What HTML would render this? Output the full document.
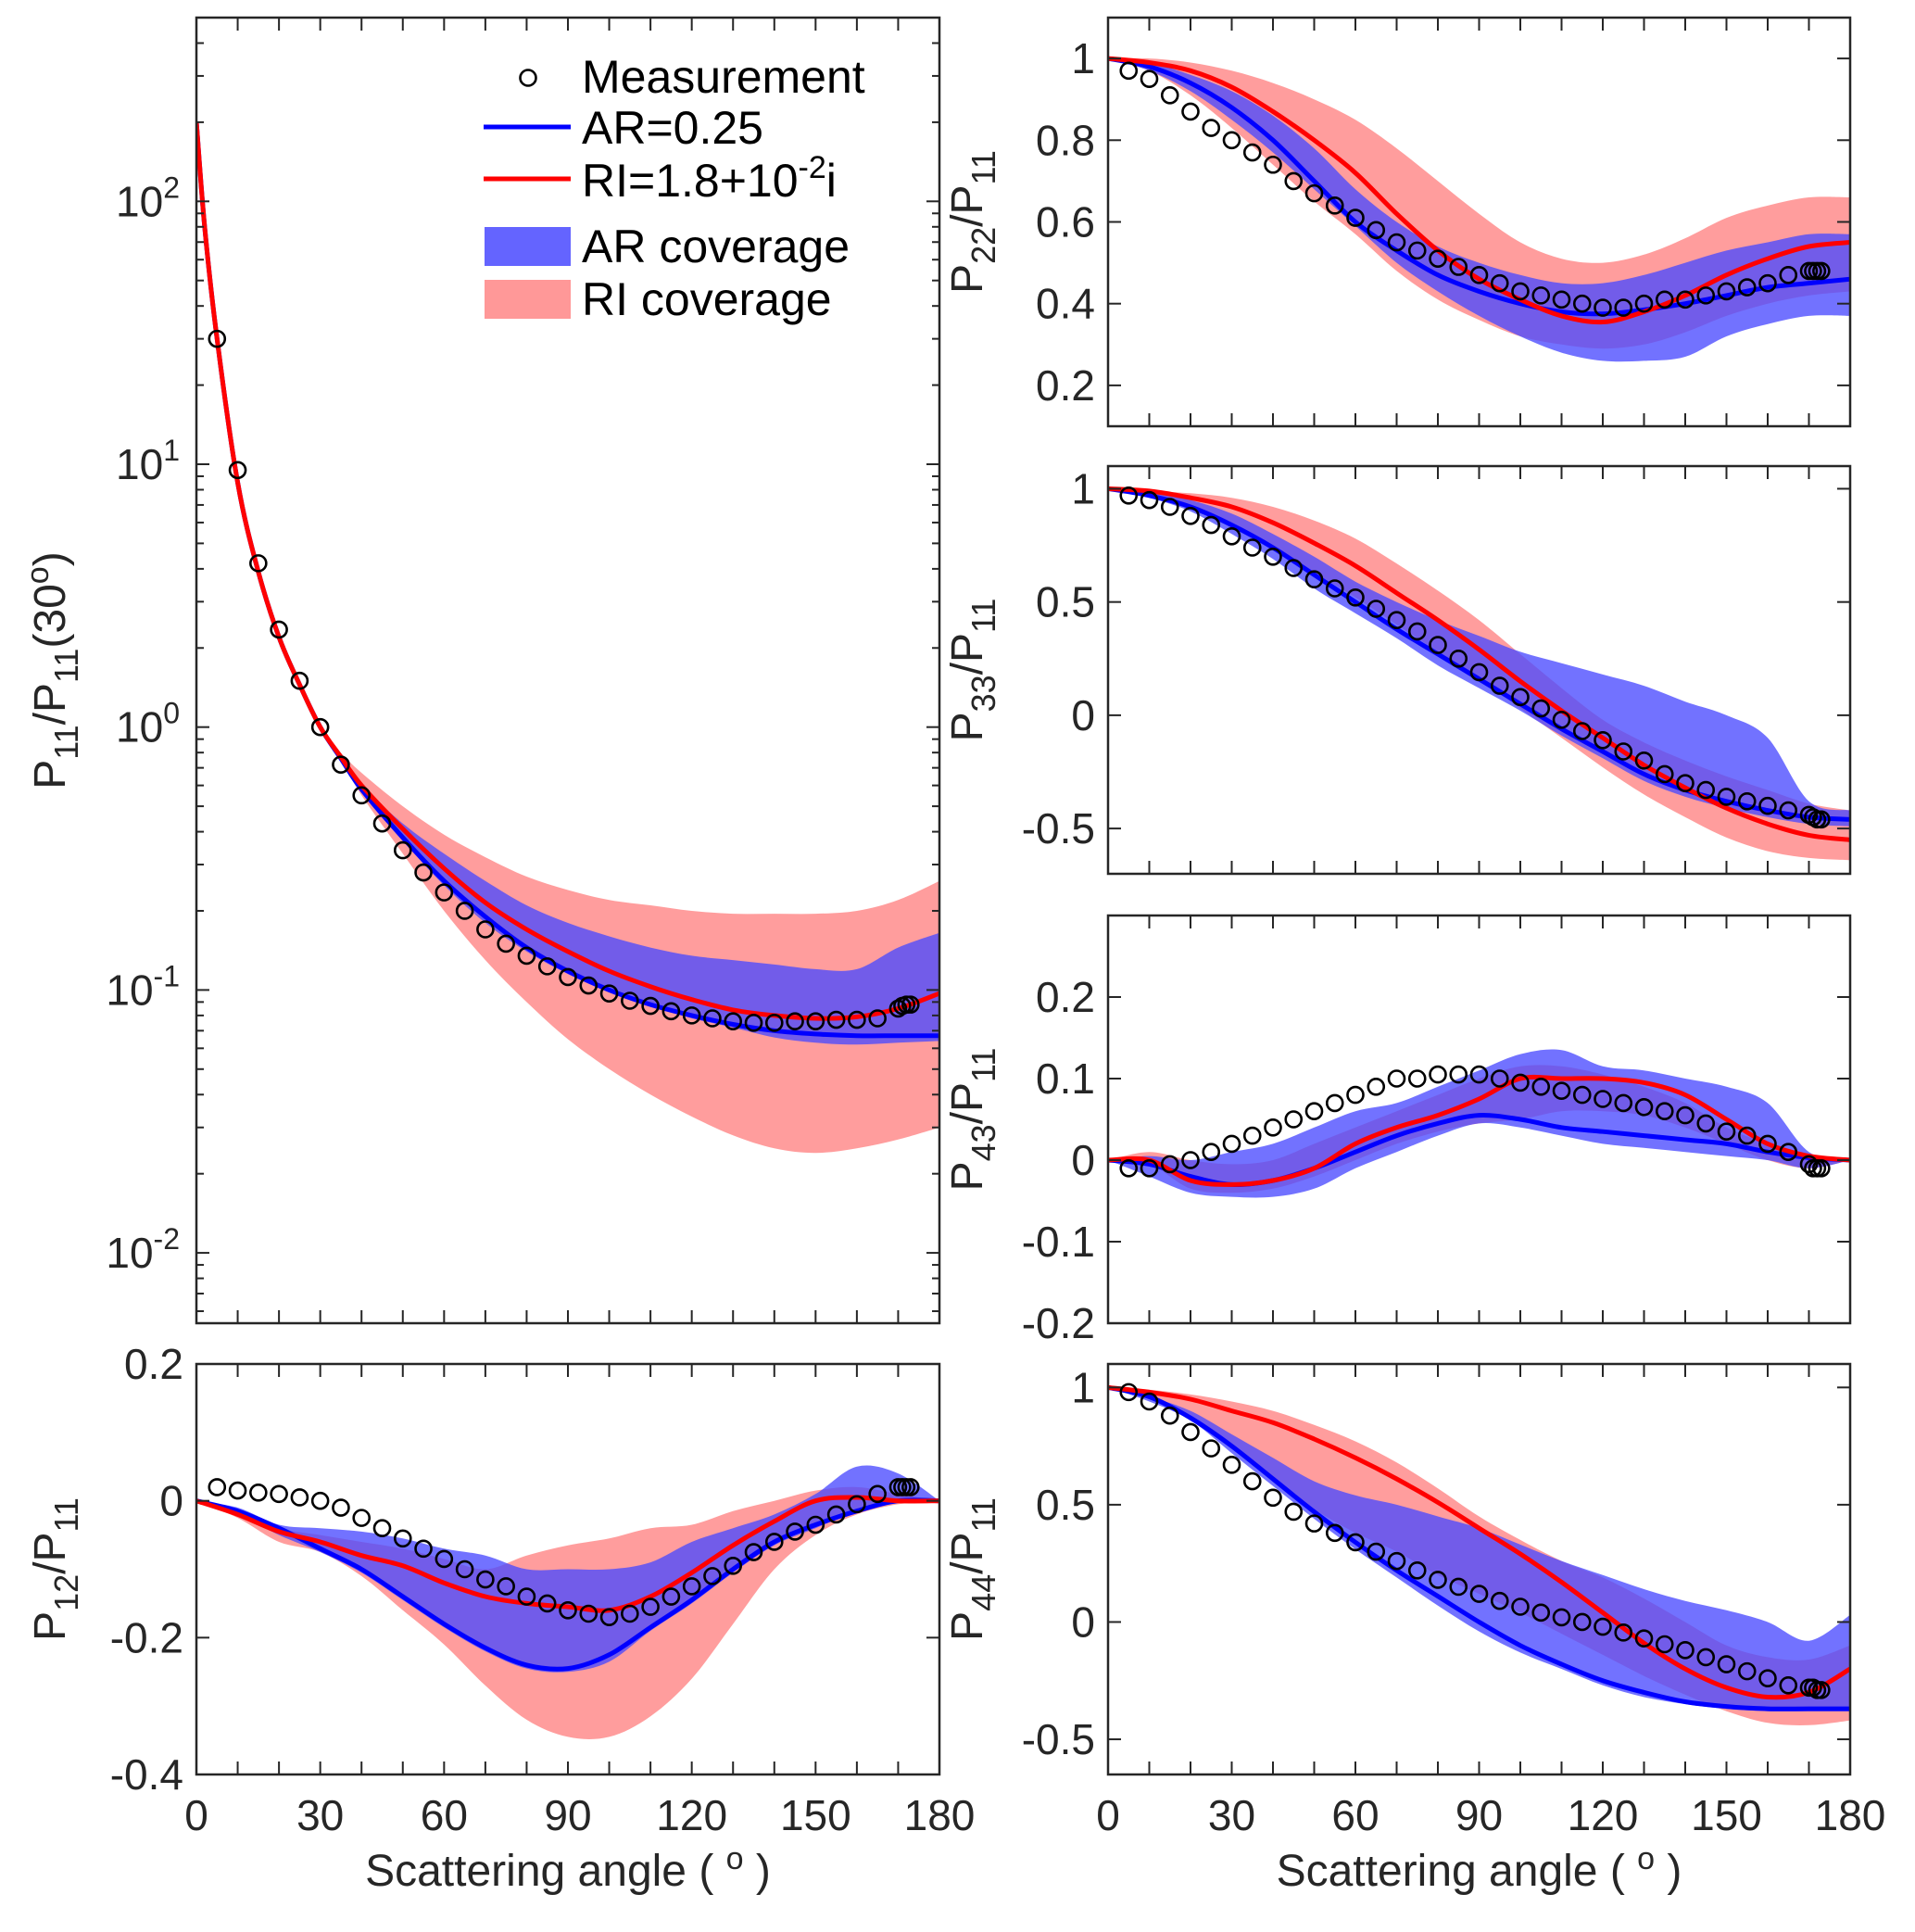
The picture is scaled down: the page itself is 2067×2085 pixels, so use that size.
<!DOCTYPE html>
<html><head><meta charset="utf-8"><style>
html,body{margin:0;padding:0;background:#fff;}
svg{display:block;font-family:"Liberation Sans",Arial,sans-serif;}
</style></head>
<body>
<svg id="fig" width="2067" height="2085" viewBox="0 0 2067 2085" xmlns="http://www.w3.org/2000/svg"></svg>
<script>
// ---------- DATA ----------
const measAngles = [5,10,15,20,25,30,35,40,45,50,55,60,65,70,75,80,85,90,95,100,105,110,115,120,125,130,135,140,145,150,155,160,165,170,171,172,173];
// P11
const p11Meas = [30,9.5,4.2,2.35,1.5,1.0,0.72,0.55,0.43,0.34,0.28,0.235,0.2,0.17,0.15,0.135,0.123,0.112,0.104,0.097,0.091,0.087,0.083,0.08,0.078,0.076,0.075,0.075,0.076,0.076,0.077,0.077,0.078,0.085,0.087,0.088,0.088];
const p11Angles = [0,2,5,10,15,20,25,30,35,40,50,60,70,80,90,100,110,120,130,140,150,160,170,180];
const p11AR = [200,80,30,8.5,3.9,2.2,1.45,1.0,0.76,0.58,0.38,0.26,0.19,0.145,0.118,0.1,0.088,0.08,0.074,0.07,0.068,0.067,0.067,0.067];
const p11RI = [200,80,30,8.5,3.9,2.2,1.45,1.0,0.77,0.6,0.41,0.29,0.215,0.17,0.14,0.118,0.103,0.092,0.084,0.08,0.078,0.079,0.085,0.097];
const p11ARup = [200,80,30,8.5,3.9,2.2,1.45,1.0,0.77,0.6,0.43,0.33,0.26,0.21,0.18,0.16,0.145,0.135,0.13,0.125,0.12,0.12,0.145,0.165];
const p11ARlo = [200,80,30,8.5,3.9,2.2,1.45,1.0,0.75,0.57,0.37,0.25,0.18,0.14,0.115,0.098,0.087,0.078,0.072,0.066,0.063,0.062,0.063,0.064];
const p11RIup = [200,80,30,8.5,3.9,2.2,1.45,1.0,0.8,0.67,0.5,0.39,0.32,0.27,0.24,0.22,0.21,0.2,0.195,0.195,0.195,0.2,0.22,0.26];
const p11RIlo = [200,80,30,8.5,3.9,2.2,1.45,1.0,0.75,0.55,0.33,0.2,0.13,0.09,0.065,0.05,0.04,0.033,0.028,0.025,0.024,0.025,0.027,0.03];
// P22
const p22Meas = [0.97,0.95,0.91,0.87,0.83,0.8,0.77,0.74,0.7,0.67,0.64,0.61,0.58,0.55,0.53,0.51,0.49,0.47,0.45,0.43,0.42,0.41,0.4,0.39,0.39,0.4,0.41,0.41,0.42,0.43,0.44,0.45,0.47,0.48,0.48,0.48,0.48];
const stdAngles = [0,10,20,30,40,50,60,70,80,90,100,110,120,130,140,150,160,170,180];
const p22AR = [1,0.98,0.94,0.88,0.8,0.7,0.6,0.53,0.47,0.43,0.4,0.38,0.375,0.385,0.4,0.42,0.44,0.45,0.46];
const p22RI = [1,0.99,0.97,0.93,0.87,0.8,0.72,0.62,0.53,0.46,0.41,0.37,0.355,0.38,0.42,0.47,0.51,0.54,0.55];
const p22ARup = [1,0.99,0.96,0.92,0.86,0.78,0.68,0.6,0.54,0.5,0.47,0.45,0.45,0.47,0.5,0.53,0.55,0.57,0.57];
const p22ARlo = [1,0.97,0.92,0.85,0.77,0.68,0.59,0.5,0.43,0.37,0.32,0.28,0.26,0.26,0.27,0.32,0.35,0.37,0.37];
const p22RIup = [1,1,0.99,0.97,0.94,0.9,0.85,0.78,0.7,0.62,0.55,0.51,0.5,0.52,0.56,0.61,0.64,0.66,0.66];
const p22RIlo = [1,0.97,0.91,0.83,0.74,0.65,0.57,0.48,0.41,0.36,0.32,0.3,0.29,0.3,0.33,0.37,0.4,0.42,0.43];
// P33
const p33Meas = [0.97,0.95,0.92,0.88,0.84,0.79,0.74,0.7,0.65,0.6,0.56,0.52,0.47,0.42,0.37,0.31,0.25,0.19,0.13,0.08,0.03,-0.02,-0.07,-0.11,-0.16,-0.2,-0.26,-0.3,-0.33,-0.36,-0.38,-0.4,-0.42,-0.44,-0.45,-0.46,-0.46];
const p33AR = [1,0.97,0.92,0.84,0.74,0.62,0.5,0.38,0.27,0.16,0.05,-0.06,-0.16,-0.26,-0.33,-0.38,-0.42,-0.45,-0.46];
const p33RI = [1,0.99,0.96,0.92,0.85,0.76,0.66,0.54,0.42,0.29,0.15,0.02,-0.1,-0.22,-0.32,-0.41,-0.48,-0.53,-0.55];
const p33ARup = [1,0.98,0.95,0.89,0.8,0.7,0.59,0.5,0.42,0.35,0.28,0.23,0.18,0.13,0.06,0.0,-0.1,-0.38,-0.42];
const p33ARlo = [1,0.96,0.9,0.8,0.69,0.56,0.45,0.34,0.22,0.12,0.02,-0.09,-0.19,-0.29,-0.36,-0.41,-0.45,-0.48,-0.49];
const p33RIup = [1,0.99,0.98,0.96,0.92,0.86,0.78,0.67,0.55,0.42,0.27,0.12,-0.02,-0.12,-0.2,-0.27,-0.33,-0.39,-0.42];
const p33RIlo = [1,0.96,0.92,0.84,0.74,0.63,0.52,0.4,0.28,0.16,0.03,-0.1,-0.23,-0.35,-0.45,-0.54,-0.6,-0.63,-0.64];
// P43
const p43Meas = [-0.01,-0.01,-0.005,0,0.01,0.02,0.03,0.04,0.05,0.06,0.07,0.08,0.09,0.1,0.1,0.105,0.105,0.105,0.1,0.095,0.09,0.085,0.08,0.075,0.07,0.065,0.06,0.055,0.045,0.035,0.03,0.02,0.01,-0.005,-0.01,-0.01,-0.01];
const p43AR = [0,-0.005,-0.02,-0.03,-0.025,-0.01,0.01,0.03,0.045,0.055,0.05,0.04,0.035,0.03,0.025,0.02,0.01,0.003,0];
const p43RI = [0,0.0,-0.025,-0.03,-0.025,-0.01,0.02,0.04,0.055,0.075,0.1,0.1,0.1,0.095,0.08,0.05,0.02,0.005,0];
const p43ARup = [0,0.005,0.0,0.01,0.02,0.04,0.06,0.07,0.09,0.11,0.13,0.135,0.115,0.11,0.1,0.09,0.07,0.01,0];
const p43ARlo = [0,-0.02,-0.04,-0.045,-0.045,-0.035,-0.01,0.01,0.03,0.045,0.04,0.03,0.02,0.015,0.01,0.005,0.0,-0.01,0];
const p43RIup = [0,0.01,0.0,-0.005,0.0,0.02,0.04,0.06,0.08,0.1,0.115,0.115,0.105,0.09,0.07,0.04,0.02,0.005,0];
const p43RIlo = [0,-0.005,-0.035,-0.04,-0.035,-0.02,0.0,0.02,0.035,0.045,0.05,0.06,0.06,0.055,0.04,0.02,0.0,-0.01,0];
// P12
const p12Meas = [0.02,0.015,0.012,0.01,0.005,0,-0.01,-0.025,-0.04,-0.055,-0.07,-0.085,-0.1,-0.115,-0.125,-0.14,-0.15,-0.16,-0.165,-0.17,-0.165,-0.155,-0.14,-0.125,-0.11,-0.095,-0.075,-0.06,-0.045,-0.035,-0.02,-0.005,0.01,0.02,0.02,0.02,0.02];
const p12AR = [0,-0.015,-0.04,-0.07,-0.1,-0.14,-0.18,-0.215,-0.24,-0.245,-0.225,-0.185,-0.145,-0.1,-0.06,-0.035,-0.015,0.0,0];
const p12RI = [0,-0.02,-0.045,-0.06,-0.08,-0.095,-0.12,-0.14,-0.15,-0.155,-0.16,-0.14,-0.105,-0.065,-0.03,0.0,0.005,0.0,0];
const p12ARup = [0,-0.01,-0.035,-0.04,-0.045,-0.055,-0.07,-0.08,-0.1,-0.1,-0.1,-0.09,-0.06,-0.04,-0.02,0.01,0.05,0.04,0];
const p12ARlo = [0,-0.02,-0.05,-0.075,-0.105,-0.145,-0.185,-0.22,-0.245,-0.25,-0.235,-0.19,-0.15,-0.105,-0.065,-0.04,-0.015,0,0];
const p12RIup = [0,-0.015,-0.04,-0.05,-0.06,-0.07,-0.085,-0.1,-0.08,-0.065,-0.055,-0.04,-0.035,-0.015,0.0,0.015,0.02,0.01,0];
const p12RIlo = [0,-0.025,-0.06,-0.075,-0.11,-0.16,-0.21,-0.27,-0.32,-0.345,-0.345,-0.315,-0.26,-0.18,-0.1,-0.05,-0.02,-0.005,0];
// P44
const p44Meas = [0.98,0.94,0.88,0.81,0.74,0.67,0.6,0.53,0.47,0.42,0.38,0.34,0.3,0.26,0.22,0.18,0.15,0.12,0.09,0.065,0.04,0.02,0.0,-0.02,-0.045,-0.07,-0.095,-0.12,-0.15,-0.18,-0.21,-0.24,-0.27,-0.28,-0.28,-0.29,-0.29];
const p44AR = [1,0.96,0.87,0.75,0.61,0.47,0.34,0.22,0.11,0.0,-0.1,-0.18,-0.25,-0.3,-0.34,-0.36,-0.37,-0.37,-0.37];
const p44RI = [1,0.98,0.95,0.9,0.85,0.78,0.7,0.61,0.51,0.4,0.29,0.17,0.04,-0.09,-0.2,-0.28,-0.32,-0.3,-0.2];
const p44ARup = [1,0.96,0.9,0.8,0.7,0.6,0.54,0.5,0.45,0.4,0.33,0.26,0.2,0.14,0.09,0.05,0.0,-0.08,0.03];
const p44ARlo = [1,0.94,0.86,0.72,0.58,0.44,0.31,0.19,0.07,-0.04,-0.13,-0.2,-0.27,-0.32,-0.35,-0.37,-0.38,-0.38,-0.38];
const p44RIup = [1,0.99,0.97,0.94,0.9,0.84,0.77,0.68,0.57,0.45,0.35,0.26,0.19,0.1,0.0,-0.1,-0.15,-0.16,-0.1];
const p44RIlo = [1,0.95,0.88,0.74,0.6,0.48,0.38,0.3,0.2,0.12,0.04,-0.05,-0.14,-0.23,-0.31,-0.38,-0.43,-0.44,-0.42];
const xTicks = [0,30,60,90,120,150,180];

// ---------- DRAWING ----------
const NS = 'http://www.w3.org/2000/svg';
const svg = document.getElementById('fig');
function mk(tag, attrs, parent){const e=document.createElementNS(NS,tag);for(const k in attrs)e.setAttribute(k,attrs[k]);(parent||svg).appendChild(e);return e;}
// Catmull-Rom smooth path through points (start with M or continue with L)
function smooth(pts, cont){
  let d = (cont?'L':'M')+pts[0][0].toFixed(1)+','+pts[0][1].toFixed(1);
  for(let i=0;i<pts.length-1;i++){
    const p0=pts[Math.max(0,i-1)], p1=pts[i], p2=pts[i+1], p3=pts[Math.min(pts.length-1,i+2)];
    const c1x=p1[0]+(p2[0]-p0[0])/6, c1y=p1[1]+(p2[1]-p0[1])/6;
    const c2x=p2[0]-(p3[0]-p1[0])/6, c2y=p2[1]-(p3[1]-p1[1])/6;
    d+='C'+c1x.toFixed(1)+','+c1y.toFixed(1)+' '+c2x.toFixed(1)+','+c2y.toFixed(1)+' '+p2[0].toFixed(1)+','+p2[1].toFixed(1);
  }
  return d;
}

function panel(cfg){
  const g = mk('g',{});
  
  
  const {x0,x1,y0,y1} = cfg;
  const sx = a => x0 + (a/180)*(x1-x0);
  const tr = cfg.log ? (v=>Math.log10(v)) : (v=>v);
  const lo = tr(cfg.ymin), hi = tr(cfg.ymax);
  const sy = v => y1 - (tr(v)-lo)/(hi-lo)*(y1-y0);
  const clip = 'clip-'+cfg.name;
  const cp = mk('clipPath',{id:clip},g); mk('rect',{x:x0,y:y0,width:x1-x0,height:y1-y0},cp);
  const inner = mk('g',{'clip-path':'url(#'+clip+')'},g);
  function band(ang, up, lo2, color, op, nm){
    const top = ang.map((a,i)=>[sx(a),sy(up[i])]);
    const bot = ang.map((a,i)=>[sx(a),sy(lo2[i])]).reverse();
    const p = mk('path',{d:smooth(top,false)+smooth(bot,true)+'Z',fill:color,'fill-opacity':op,stroke:'none'},inner);
    
    
  }
  function line(ang, vals, color, nm){
    const pts = ang.map((a,i)=>[sx(a),sy(vals[i])]);
    const p = mk('path',{d:smooth(pts,false),fill:'none',stroke:color,'stroke-width':5,'stroke-linejoin':'round'},inner);
    
    
  }
  band(cfg.ang, cfg.riUp, cfg.riLo, '#ff8c8c', 0.85, 'ri-coverage-band');
  band(cfg.ang, cfg.arUp, cfg.arLo, '#4a4aff', 0.78, 'ar-coverage-band');
  line(cfg.ang, cfg.ar, '#0000ff', 'ar-line');
  line(cfg.ang, cfg.ri, '#ff0000', 'ri-line');
  measAngles.forEach((a,i)=>{
    const c = mk('circle',{cx:sx(a),cy:sy(cfg.meas[i]),r:8.5,fill:'none',stroke:'#000','stroke-width':2.6},inner);
    
    
  });
  mk('rect',{x:x0,y:y0,width:x1-x0,height:y1-y0,fill:'none',stroke:'#262626','stroke-width':2.5},g);
  for(let a=0;a<=180;a+=10){
    const X=sx(a);
    mk('line',{x1:X,y1:y1,x2:X,y2:y1-14,stroke:'#262626','stroke-width':2},g);
    mk('line',{x1:X,y1:y0,x2:X,y2:y0+14,stroke:'#262626','stroke-width':2},g);
  }
  if(cfg.xlabels){
    xTicks.forEach(a=>{
      const t = mk('text',{x:sx(a),y:y1+60,'font-size':46,'text-anchor':'middle',fill:'#262626'},g);
      t.textContent = a;
      
      
    });
    const t = mk('text',{x:(x0+x1)/2,y:y1+120,'font-size':48,'text-anchor':'middle',fill:'#262626'},g);
    t.innerHTML = 'Scattering angle ( <tspan dy="-18" font-size="34">o</tspan><tspan dy="18"> )</tspan>';
    
    
  }
  if(cfg.log){
    for(let e=-3;e<=2;e++){
      for(let m=1;m<10;m++){
        const v=m*Math.pow(10,e); if(v<cfg.ymin||v>cfg.ymax) continue;
        const L = m===1?14:8, Y=sy(v);
        mk('line',{x1:x0,y1:Y,x2:x0+L,y2:Y,stroke:'#262626','stroke-width':2},g);
        mk('line',{x1:x1,y1:Y,x2:x1-L,y2:Y,stroke:'#262626','stroke-width':2},g);
        if(m===1){
          const t = mk('text',{x:x0-18,y:Y+16,'font-size':46,'text-anchor':'end',fill:'#262626'},g);
          t.innerHTML = '10<tspan dy="-20" font-size="32">'+e+'</tspan>';
          
          
        }
      }
    }
  } else {
    cfg.yticks.forEach(v=>{
      const Y=sy(v);
      mk('line',{x1:x0,y1:Y,x2:x0+14,y2:Y,stroke:'#262626','stroke-width':2},g);
      mk('line',{x1:x1,y1:Y,x2:x1-14,y2:Y,stroke:'#262626','stroke-width':2},g);
      const t = mk('text',{x:x0-14,y:Y+16,'font-size':46,'text-anchor':'end',fill:'#262626'},g);
      t.textContent = String(v);
      
      
    });
  }
  const yl = mk('text',{transform:'translate('+cfg.lx+','+((y0+y1)/2)+') rotate(-90)','font-size':48,'text-anchor':'middle',fill:'#262626'},g);
  yl.innerHTML = cfg.ylabel;
  
  
}
const sub = s => '<tspan dy="14" font-size="36">'+s+'</tspan><tspan dy="-14">';
const LX=212, RX=1014, RX0=1196, RX1=1997;
panel({name:'p11-panel',x0:LX,x1:RX,y0:19,y1:1428,log:true,ymin:0.0054,ymax:500,ang:p11Angles,ar:p11AR,ri:p11RI,arUp:p11ARup,arLo:p11ARlo,riUp:p11RIup,riLo:p11RIlo,meas:p11Meas,lx:70,
  ylabel:'P'+sub('11')+'/P</tspan>'+sub('11')+'(30<tspan dy="-18" font-size="34">o</tspan><tspan dy="18">)</tspan></tspan>'});
panel({name:'p22-panel',x0:RX0,x1:RX1,y0:19,y1:460,ymin:0.1,ymax:1.1,yticks:[0.2,0.4,0.6,0.8,1],ang:stdAngles,ar:p22AR,ri:p22RI,arUp:p22ARup,arLo:p22ARlo,riUp:p22RIup,riLo:p22RIlo,meas:p22Meas,lx:1060,
  ylabel:'P'+sub('22')+'/P</tspan>'+sub('11')+'</tspan>'});
panel({name:'p33-panel',x0:RX0,x1:RX1,y0:503,y1:943,ymin:-0.7,ymax:1.1,yticks:[-0.5,0,0.5,1],ang:stdAngles,ar:p33AR,ri:p33RI,arUp:p33ARup,arLo:p33ARlo,riUp:p33RIup,riLo:p33RIlo,meas:p33Meas,lx:1060,
  ylabel:'P'+sub('33')+'/P</tspan>'+sub('11')+'</tspan>'});
panel({name:'p43-panel',x0:RX0,x1:RX1,y0:988,y1:1428,ymin:-0.2,ymax:0.3,yticks:[-0.2,-0.1,0,0.1,0.2],ang:stdAngles,ar:p43AR,ri:p43RI,arUp:p43ARup,arLo:p43ARlo,riUp:p43RIup,riLo:p43RIlo,meas:p43Meas,lx:1060,
  ylabel:'P'+sub('43')+'/P</tspan>'+sub('11')+'</tspan>'});
panel({name:'p12-panel',x0:LX,x1:RX,y0:1472,y1:1915,ymin:-0.4,ymax:0.2,yticks:[-0.4,-0.2,0,0.2],ang:stdAngles,ar:p12AR,ri:p12RI,arUp:p12ARup,arLo:p12ARlo,riUp:p12RIup,riLo:p12RIlo,meas:p12Meas,lx:70,xlabels:true,
  ylabel:'P'+sub('12')+'/P</tspan>'+sub('11')+'</tspan>'});
panel({name:'p44-panel',x0:RX0,x1:RX1,y0:1472,y1:1915,ymin:-0.65,ymax:1.1,yticks:[-0.5,0,0.5,1],ang:stdAngles,ar:p44AR,ri:p44RI,arUp:p44ARup,arLo:p44ARlo,riUp:p44RIup,riLo:p44RIlo,meas:p44Meas,lx:1060,xlabels:true,
  ylabel:'P'+sub('44')+'/P</tspan>'+sub('11')+'</tspan>'});
</script>
<svg style="position:absolute;left:0;top:0" width="2067" height="2085">
  <g font-family="Liberation Sans, Arial, sans-serif" font-size="50" fill="#000">
    <circle cx="570" cy="84" r="8.5" fill="none" stroke="#000" stroke-width="2.6"/>
    <text x="628" y="100">Measurement</text>
    <line x1="522" y1="137" x2="616" y2="137" stroke="#0000ff" stroke-width="5"/>
    <text x="628" y="155">AR=0.25</text>
    <line x1="522" y1="193" x2="616" y2="193" stroke="#ff0000" stroke-width="5"/>
    <text x="628" y="212">RI=1.8+10<tspan dy="-20" font-size="34">-2</tspan><tspan dy="20">i</tspan></text>
    <rect x="523" y="245" width="93" height="42" fill="#6464ff"/>
    <text x="628" y="283">AR coverage</text>
    <rect x="523" y="302" width="93" height="42" fill="#ff9898"/>
    <text x="628" y="340">RI coverage</text>
  </g>
</svg>
</body></html>
